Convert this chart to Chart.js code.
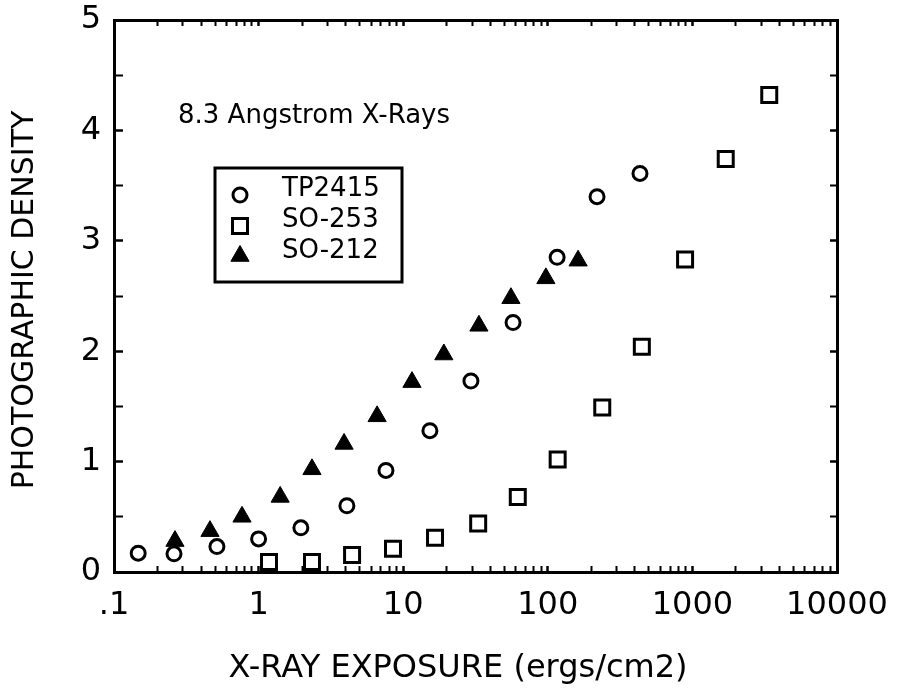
<!DOCTYPE html>
<html>
<head>
<meta charset="utf-8">
<script src="https://cdn.jsdelivr.net/npm/chart.js@4/dist/chart.umd.min.js"></script>
<style>
  html, body { margin: 0; padding: 0; background: #ffffff; }
  #wrap { width: 904px; height: 694px; }
  canvas { display: block; }
</style>
</head>
<body>
<div id="wrap"><canvas id="c" width="904" height="694"></canvas></div>
<script>
// ---- data ----
const seriesNames = ['TP2415', 'SO-253', 'SO-212'];

const tp2415X = [0.147, 0.26, 0.515, 1.0, 1.96, 4.08, 7.6, 15.3, 29.4, 57.5, 116, 219, 434];
const tp2415Y = [0.17, 0.165, 0.23, 0.30, 0.40, 0.60, 0.92, 1.28, 1.73, 2.26, 2.85, 3.40, 3.61];

const so253X = [1.18, 2.34, 4.43, 8.5, 16.6, 33.0, 62, 117, 238, 447, 890, 1700, 3400];
const so253Y = [0.09, 0.09, 0.155, 0.21, 0.31, 0.44, 0.68, 1.02, 1.49, 2.04, 2.83, 3.74, 4.32];

const so212X = [0.264, 0.461, 0.768, 1.41, 2.34, 3.9, 6.6, 11.5, 19.1, 33.4, 55.6, 97, 162];
const so212Y = [0.28, 0.37, 0.50, 0.68, 0.93, 1.16, 1.41, 1.72, 1.97, 2.23, 2.48, 2.66, 2.82];

const xDecades = [0.1, 1, 10, 100, 1000, 10000];
const xTickLabels = ['.1', '1', '10', '100', '1000', '10000'];
const yTickValues = [0, 0.5, 1, 1.5, 2, 2.5, 3, 3.5, 4, 4.5, 5];
const yTickLabels = ['0', '', '1', '', '2', '', '3', '', '4', '', '5'];

const chartNote = '8.3 Angstrom X-Rays';
const xTitle = 'X-RAY EXPOSURE (ergs/cm2)';
const yTitle = 'PHOTOGRAPHIC DENSITY';

// ---- helpers ----
function pts(xs, ys) { return xs.map((x, i) => ({ x: x, y: ys[i] })); }

function logTicks() {
  const t = [];
  for (let d = 0; d < xDecades.length; d++) {
    const base = xDecades[d];
    t.push({ value: base, major: true });
    if (d < xDecades.length - 1) {
      for (let k = 2; k <= 9; k++) t.push({ value: +(base * k).toPrecision(6), major: false });
    }
  }
  return t;
}
function yTicks() {
  return yTickValues.map(v => ({ value: v, major: Number.isInteger(v) }));
}
function noPad(s) { s.paddingTop = 0; s.paddingBottom = 0; s.paddingLeft = 0; s.paddingRight = 0; }

const FONT = 'DejaVu Sans';
const INK = '#000000';

const markerStyles = [
  { pointStyle: 'circle', radius: 7, fill: 'rgba(0,0,0,0)', bw: 3 },
  { pointStyle: 'rect', radius: 10.6, fill: 'rgba(0,0,0,0)', bw: 3 },
  { pointStyle: 'triangle', radius: 10.5, fill: INK, bw: 1 }
];

const seriesData = [pts(tp2415X, tp2415Y), pts(so253X, so253Y), pts(so212X, so212Y)];

const datasets = seriesData.map((d, i) => ({
  label: seriesNames[i],
  data: d,
  pointStyle: markerStyles[i].pointStyle,
  pointRadius: markerStyles[i].radius,
  pointHoverRadius: markerStyles[i].radius,
  pointBackgroundColor: markerStyles[i].fill,
  pointBorderColor: INK,
  pointBorderWidth: markerStyles[i].bw,
  showLine: false,
  clip: false
}));

function drawMarker(ctx, style, x, y) {
  const opts = {
    pointStyle: style.pointStyle, radius: style.radius, rotation: 0, borderWidth: style.bw
  };
  ctx.save();
  ctx.fillStyle = style.fill;
  ctx.strokeStyle = INK;
  ctx.lineWidth = style.bw;
  if (Chart.helpers && Chart.helpers.drawPoint) {
    Chart.helpers.drawPoint(ctx, opts, x, y);
  } else {
    ctx.beginPath();
    if (style.pointStyle === 'circle') {
      ctx.arc(x, y, style.radius, 0, Math.PI * 2);
    } else if (style.pointStyle === 'rect') {
      const s = style.radius * Math.SQRT1_2;
      ctx.rect(x - s, y - s, 2 * s, 2 * s);
    } else {
      const r = style.radius;
      ctx.moveTo(x, y - r);
      ctx.lineTo(x + r * Math.sin(2 * Math.PI / 3), y - r * Math.cos(2 * Math.PI / 3));
      ctx.lineTo(x + r * Math.sin(4 * Math.PI / 3), y - r * Math.cos(4 * Math.PI / 3));
      ctx.closePath();
    }
    ctx.fill();
    ctx.stroke();
  }
  ctx.restore();
}

const decorPlugin = {
  id: 'decor',
  afterDraw(chart) {
    const ctx = chart.ctx;
    ctx.save();
    ctx.fillStyle = INK;
    ctx.textBaseline = 'middle';

    // annotation
    ctx.font = '26px "' + FONT + '"';
    ctx.textAlign = 'left';
    ctx.fillText(chartNote, 178, 116);

    // legend box
    ctx.strokeStyle = INK;
    ctx.lineWidth = 3;
    ctx.strokeRect(215, 168, 187, 114);
    const rowsText = [189, 220, 251];
    const rowsMark = [195, 226, 256];
    for (let i = 0; i < seriesNames.length; i++) {
      drawMarker(ctx, markerStyles[i], 240, rowsMark[i]);
      ctx.fillStyle = INK;
      ctx.font = '26px "' + FONT + '"';
      ctx.textAlign = 'left';
      ctx.fillText(seriesNames[i], 282, rowsText[i]);
    }

    // axis titles
    ctx.font = '32px "' + FONT + '"';
    ctx.textAlign = 'center';
    ctx.fillText(xTitle, 458, 669);

    ctx.translate(25, 300);
    ctx.rotate(-Math.PI / 2);
    ctx.font = '30px "' + FONT + '"';
    ctx.fillText(yTitle, 0, 0);
    ctx.restore();
  }
};

const tickW = (c) => (c.tick && c.tick.major ? 2.5 : 2);

new Chart(document.getElementById('c'), {
  type: 'scatter',
  data: { datasets: datasets },
  plugins: [decorPlugin],
  options: {
    responsive: false,
    animation: false,
    events: [],
    layout: { padding: { left: 0, top: 20, right: 67, bottom: 0 } },
    plugins: { legend: { display: false }, tooltip: { enabled: false }, title: { display: false } },
    scales: {
      x: {
        type: 'logarithmic', position: 'bottom', min: 0.1, max: 10000,
        afterBuildTicks: (s) => { s.ticks = logTicks(); },
        afterFit: (s) => { s.height = 122; noPad(s); },
        ticks: {
          autoSkip: false, maxRotation: 0, minRotation: 0, padding: 20,
          color: INK, font: { family: FONT, size: 32 },
          callback: function (v) {
            const i = xDecades.findIndex(d => Math.abs(d - v) / d < 1e-6);
            return i >= 0 ? xTickLabels[i] : '';
          }
        },
        grid: { drawOnChartArea: false, drawTicks: true, tickLength: -6, tickColor: INK, tickWidth: tickW },
        border: { display: true, color: INK, width: 3 }
      },
      x2: {
        type: 'logarithmic', position: 'top', min: 0.1, max: 10000, display: true,
        afterBuildTicks: (s) => { s.ticks = logTicks(); },
        afterFit: (s) => { s.height = 0; noPad(s); },
        ticks: { display: false, autoSkip: false },
        grid: { drawOnChartArea: false, drawTicks: true, tickLength: -6, tickColor: INK, tickWidth: tickW },
        border: { display: true, color: INK, width: 3 }
      },
      y: {
        type: 'linear', position: 'left', min: 0, max: 5,
        afterBuildTicks: (s) => { s.ticks = yTicks(); },
        afterFit: (s) => { s.width = 114; noPad(s); },
        ticks: {
          autoSkip: false, padding: 22, color: INK, font: { family: FONT, size: 32 },
          callback: function (v) {
            const i = yTickValues.findIndex(t => Math.abs(t - v) < 1e-9);
            return i >= 0 ? yTickLabels[i] : '';
          }
        },
        grid: { drawOnChartArea: false, drawTicks: true, tickLength: -9, tickColor: INK, tickWidth: tickW },
        border: { display: true, color: INK, width: 3 }
      },
      y2: {
        type: 'linear', position: 'right', min: 0, max: 5, display: true,
        afterBuildTicks: (s) => { s.ticks = yTicks(); },
        afterFit: (s) => { s.width = 0; noPad(s); },
        ticks: { display: false, autoSkip: false },
        grid: { drawOnChartArea: false, drawTicks: true, tickLength: -7, tickColor: INK, tickWidth: tickW },
        border: { display: true, color: INK, width: 3 }
      }
    }
  }
});
</script>
</body>
</html>
